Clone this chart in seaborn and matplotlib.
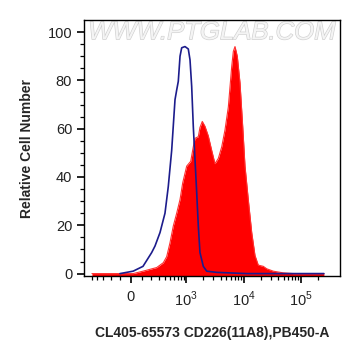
import numpy as np
import pandas as pd
import matplotlib
matplotlib.use("Agg")
import matplotlib.pyplot as plt
import matplotlib.patheffects as pe
from matplotlib.ticker import FixedLocator, NullFormatter
import seaborn as sns

# ===============================
# data (intensity, relative count)
# ===============================

control_x = [-99, 20, 111, 205, 247, 319, 403, 467, 542, 625, 671, 718, 772, 827,
             948, 1085, 1164, 1246, 1330, 1427, 1527, 1630, 1743, 1994, 2286,
             3420, 11380, 250000]
control_y = [0, 1, 3, 8.7, 11.4, 17, 25, 36, 51, 72, 76, 79.6, 90, 93.5,
             94, 93, 88.5, 77.5, 61, 47, 33.5, 19.7, 8.7, 3, 1,
             0.5, 0, 0]

stained_x = [-500, 20, 111, 270, 373, 435, 504, 581, 671, 772, 863, 1016, 1198,
             1330, 1427, 1630, 1743, 1913, 2132, 2438, 2796, 3188, 3648, 4178,
             4764, 5445, 6237, 6653, 7112, 7798, 8690, 9683, 10620, 12110,
             13900, 15850, 18070, 22080, 25290, 32960, 49200, 73450, 250000]
stained_y = [0, 0, 1, 2.5, 4.5, 7, 12.8, 19.7, 25, 30.7, 37.6, 44.5, 46.5,
             52.5, 56, 56.7, 60.5, 63, 61, 57, 51, 45.5, 47.7, 52.5,
             59.5, 69, 85.8, 92, 94, 90, 79, 61, 44.5, 30.7,
             17, 7.5, 3.5, 3, 2, 1, 0.3, 0, 0]

x_ticks = [0, 1e3, 1e4, 1e5]
x_ticklabels = ["0", "$10^{3}$", "$10^{4}$", "$10^{5}$"]
y_ticks = [0, 20, 40, 60, 80, 100]

x_label = "CL405-65573 CD226(11A8),PB450-A"
y_label = "Relative Cell Number"

# ===============================
# biexponential-like display scale
# ===============================

C = 110.0

def fwd(x):
    return np.log10(C) + np.arcsinh(np.asarray(x, float) / (2 * C)) / np.log(10)

def inv(d):
    return 2 * C * np.sinh((np.asarray(d, float) - np.log10(C)) * np.log(10))

sns.set_style("ticks")
plt.rcParams["font.family"] = ["Liberation Sans", "DejaVu Sans"]
plt.rcParams["mathtext.fontset"] = "custom"
plt.rcParams["mathtext.rm"] = "Liberation Sans"
plt.rcParams["xtick.bottom"] = True
plt.rcParams["ytick.left"] = True
plt.rcParams["xtick.minor.visible"] = True

fig = plt.figure(figsize=(3.61, 3.56), dpi=100)
ax = fig.add_axes([84 / 361, 1 - 276 / 356, 256 / 361, 256 / 356])
ax.set_xscale("function", functions=(fwd, inv))

df_s = pd.DataFrame({"x": stained_x, "y": stained_y})
df_c = pd.DataFrame({"x": control_x, "y": control_y})

ax.fill_between(df_s["x"], df_s["y"], -1, color="#ff0000", lw=0, zorder=2)
sns.lineplot(data=df_s, x="x", y="y", ax=ax, color="#ff3030", lw=0.8,
             sort=False, zorder=2)
sns.lineplot(data=df_c, x="x", y="y", ax=ax, color="#1c1c8c", lw=1.2,
             sort=False, zorder=3)

ax.set_xlim(inv(3 + (84 - 186) / 57.5), inv(3 + (340 - 186) / 57.5))
ax.set_ylim(-1, 105)

ax.set_xticks(x_ticks)
ax.set_xticklabels(x_ticklabels)
minor = [v for v in range(-500, 0, 100)] + [v for v in range(100, 1000, 100)]
minor += [m * 10 ** k for k in (3, 4) for m in range(2, 10)] + [2e5]
ax.xaxis.set_minor_locator(FixedLocator(minor))
ax.xaxis.set_minor_formatter(NullFormatter())
ax.set_yticks(y_ticks)
ax.yaxis.set_minor_locator(FixedLocator(np.arange(0, 105, 5)))

ax.tick_params(axis="both", which="major", direction="out", length=5,
               width=1.2, color="black", labelsize=10.5, labelcolor="#222222",
               bottom=True, left=True)
ax.tick_params(axis="both", which="minor", direction="out", length=3,
               width=0.9, color="black", bottom=True, left=True)
ax.tick_params(axis="x", which="major", pad=5)
for s in ax.spines.values():
    s.set_visible(True)
    s.set_color("black")
    s.set_linewidth(1)

ax.set_xlabel(x_label, fontsize=10, fontweight="bold", labelpad=12)
ax.set_ylabel(y_label, fontsize=10, fontweight="bold", labelpad=10)

ax.text(0.5, 0.952, "WWW.PTGLAB.COM", transform=ax.transAxes, ha="center",
        va="center", fontsize=18.5, style="italic", color="#f4f4f4",
        path_effects=[pe.withStroke(linewidth=0.9, foreground="#cfcfcf")],
        zorder=1)

fig.savefig("out.png", dpi=100)
